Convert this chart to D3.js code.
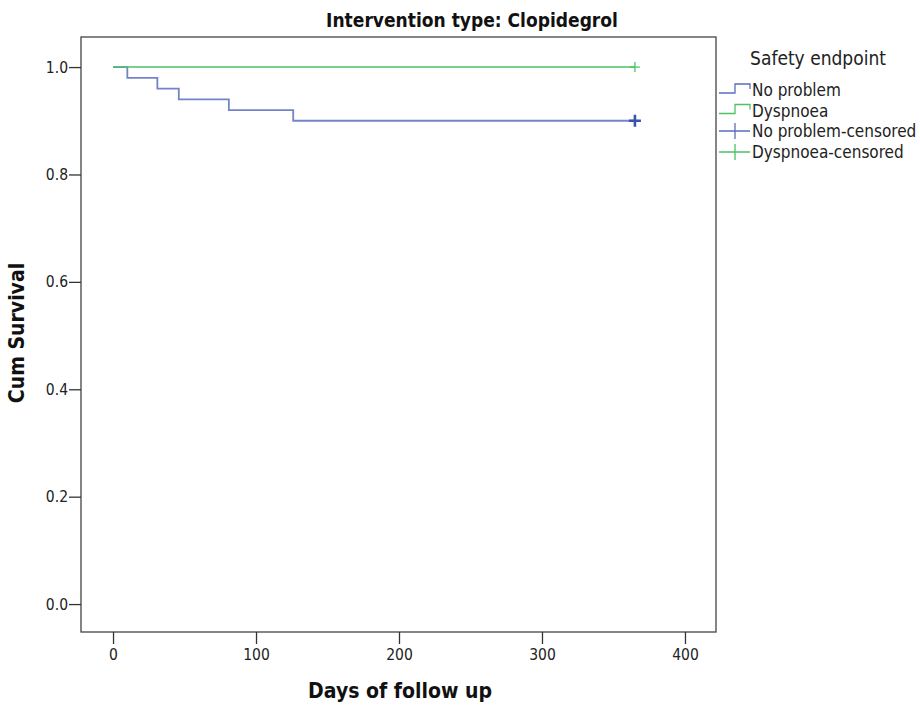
<!DOCTYPE html>
<html>
<head>
<meta charset="utf-8">
<script src="https://cdn.jsdelivr.net/npm/d3@7"></script>
<style>
body { margin: 0; background: #fff; }
text { font-family: "DejaVu Sans Condensed", "Liberation Sans", sans-serif; }
</style>
</head>
<body>
<svg class="chart"></svg>
<script>
// Kaplan-Meier steps
var noProblemDays = [0, 10, 31, 46, 81, 126, 365]
var noProblemSurv = [1.0, 0.98, 0.96, 0.94, 0.92, 0.90, 0.90]
var dyspDays = [0, 365]
var dyspSurv = [1.0, 1.0]
var censorDays = [365, 365]
var censorSurv = [0.90, 1.0]
var xTicks = [0, 100, 200, 300, 400]
var yTicks = [0.0, 0.2, 0.4, 0.6, 0.8, 1.0]
var legendLabels = ["No problem", "Dyspnoea", "No problem-censored", "Dyspnoea-censored"]

var blue = "#5a6ebd", blueDark = "#3c52a8", green = "#4cc266";

var width = 920, height = 706;
var mLeft = 81, mRight = 716, mTop = 37, mBottom = 632;

var svg = d3.select(".chart").attr("width", width).attr("height", height)

var x = d3.scaleLinear().domain([-22.4, 421.7]).range([mLeft, mRight]);
var y = d3.scaleLinear().domain([-0.052, 1.056]).range([mBottom, mTop]);

// frame
svg.append("rect")
  .attr("x", mLeft).attr("y", mTop)
  .attr("width", mRight - mLeft).attr("height", mBottom - mTop)
  .attr("fill", "none").attr("stroke", "#444").attr("stroke-width", 1.3);

var xAxis = svg.append("g")
  .attr("transform", "translate(0," + mBottom + ")")
  .call(d3.axisBottom(x).tickValues(xTicks).tickSize(12).tickSizeOuter(0).tickFormat(d3.format("d")));
var yAxis = svg.append("g")
  .attr("transform", "translate(" + mLeft + ",0)")
  .call(d3.axisLeft(y).tickValues(yTicks).tickSize(12).tickSizeOuter(0).tickFormat(d3.format(".1f")));
[xAxis, yAxis].forEach(function(g) {
  g.select(".domain").remove();
  g.selectAll("line").attr("stroke", "#333").attr("stroke-width", 1.3);
  g.selectAll("text").attr("fill", "#222").style("font-size", "15.5px")
    .style("font-family", "'DejaVu Sans Condensed', 'Liberation Sans', sans-serif");
});
xAxis.selectAll("text").attr("y", 17).attr("dy", "0.71em");
yAxis.selectAll("text").attr("x", -13);

var line = d3.line().curve(d3.curveStepAfter).x(function(d) { return x(d[0]); }).y(function(d) { return y(d[1]); });

svg.append("path")
  .datum(noProblemDays.map(function(d, i) { return [d, noProblemSurv[i]]; }))
  .attr("d", line).attr("fill", "none").attr("stroke", blue).attr("stroke-width", 1.8).attr("stroke-opacity", 0.85);

svg.append("path")
  .datum(dyspDays.map(function(d, i) { return [d, dyspSurv[i]]; }))
  .attr("d", line).attr("fill", "none").attr("stroke", green).attr("stroke-width", 1.5);

// censored marks
var censColors = [blueDark, green], censSize = [6, 5], censW = [2.6, 1.3];
censorDays.forEach(function(d, i) {
  var cx = x(d), cy = y(censorSurv[i]), s = censSize[i];
  svg.append("path")
    .attr("d", "M" + (cx - s) + "," + cy + "H" + (cx + s) + "M" + cx + "," + (cy - s) + "V" + (cy + s))
    .attr("stroke", censColors[i]).attr("stroke-width", censW[i]).attr("fill", "none");
});

// titles
svg.append("text").attr("x", 472).attr("y", 27).attr("text-anchor", "middle")
  .style("font-size", "19px").style("font-weight", "bold").attr("fill", "#111")
  .text("Intervention type: Clopidegrol");
svg.append("text").attr("x", 400).attr("y", 698).attr("text-anchor", "middle")
  .style("font-size", "21px").style("font-weight", "bold").attr("fill", "#111")
  .text("Days of follow up");
svg.append("text").attr("transform", "rotate(-90)").attr("x", -333).attr("y", 24).attr("text-anchor", "middle")
  .style("font-size", "21px").style("font-weight", "bold").attr("fill", "#111")
  .text("Cum Survival");

// legend
svg.append("text").attr("x", 818).attr("y", 65).attr("text-anchor", "middle")
  .style("font-size", "19px").attr("fill", "#222").text("Safety endpoint");
var legY = [90, 110.5, 131, 152];
var legColors = [blue, green, blue, green];
legendLabels.forEach(function(lab, i) {
  var ly = legY[i];
  var p;
  if (i < 2) {
    p = "M719," + (ly + 3) + "H735V" + (ly - 6) + "H750V" + (ly - 1);
  } else {
    p = "M719," + ly + "H750M735," + (ly - 8) + "V" + (ly + 8);
  }
  svg.append("path").attr("d", p).attr("fill", "none").attr("stroke", legColors[i]).attr("stroke-width", 1.3);
  svg.append("text").attr("x", 752).attr("y", ly + 6).style("font-size", "17px").attr("fill", "#222").text(lab);
});
</script>
</body>
</html>
